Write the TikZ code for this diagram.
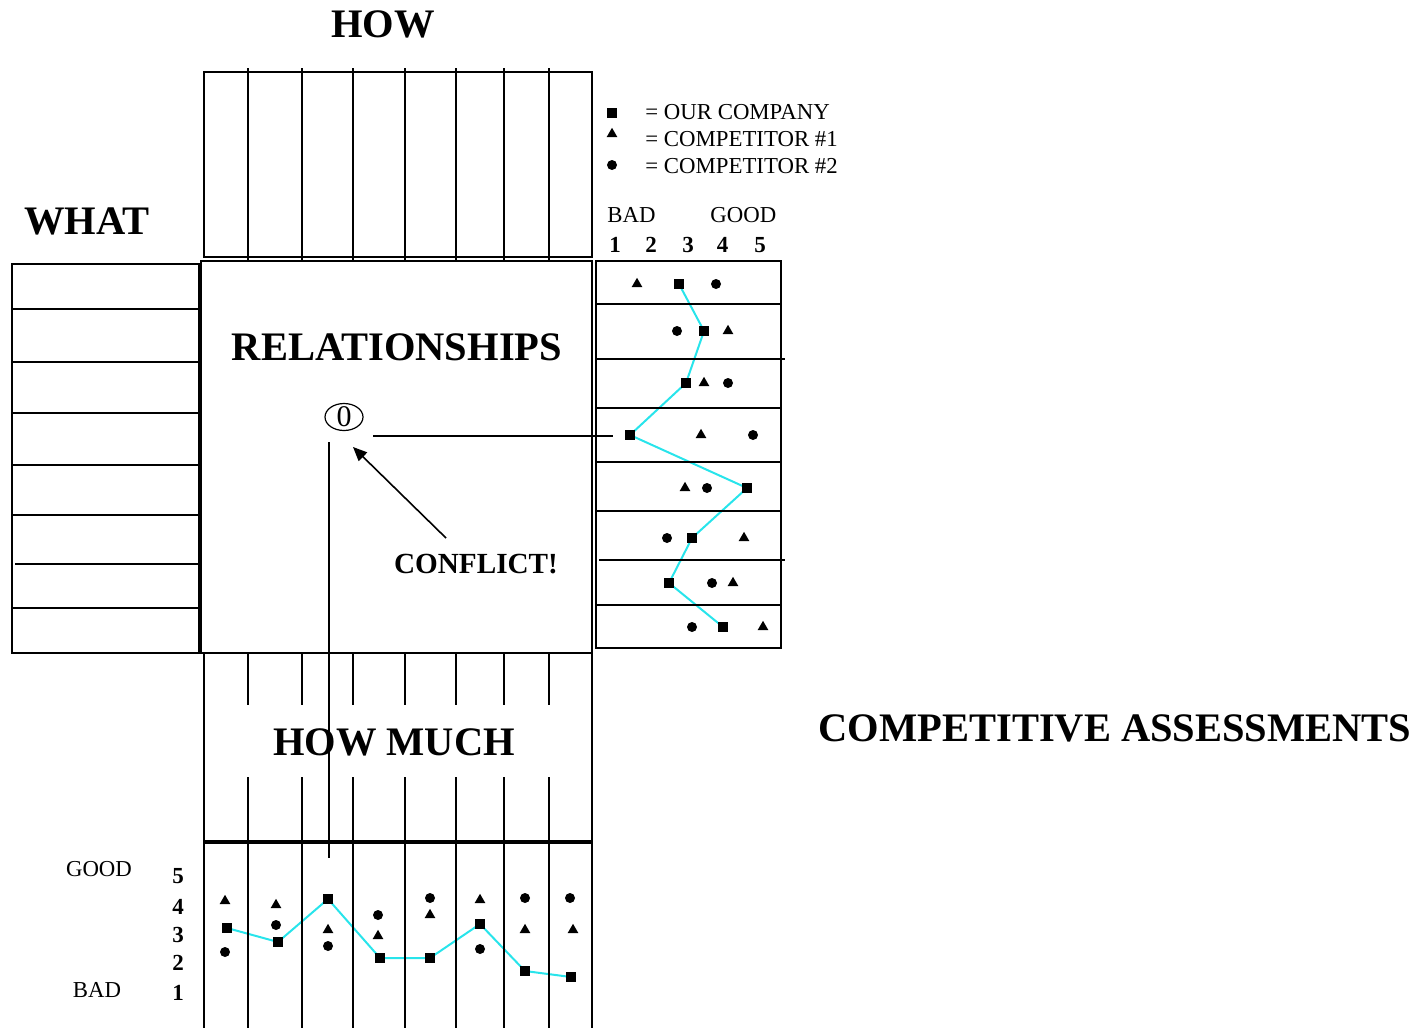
\documentclass[tikz,border=0pt]{standalone}
\usepackage{fontspec}
\setmainfont{Liberation Serif}
\usetikzlibrary{shapes.geometric,arrows.meta}
\pgfdeclarelayer{bg}
\pgfsetlayers{bg,main}
\definecolor{qcyan}{RGB}{40,228,235}
\tikzset{
  grid/.style={line width=0.8pt},
  frame/.style={line width=1pt},
  sq/.style={rectangle, fill=black, minimum size=5pt, inner sep=0pt},
  tri/.style={regular polygon, regular polygon sides=3, fill=black, minimum size=6.2pt, inner sep=0pt},
  dot/.style={circle, fill=black, minimum size=5pt, inner sep=0pt},
  title/.style={font=\fontsize{20.25pt}{24pt}\selectfont\bfseries, inner sep=0pt, anchor=base},
  small/.style={font=\fontsize{11.4pt}{13pt}\selectfont, inner sep=0pt},
  digit/.style={font=\fontsize{11.5pt}{14pt}\selectfont\bfseries, inner sep=0pt, anchor=base},
  trend/.style={qcyan, line width=1pt},
}
\begin{document}
\begin{tikzpicture}[x=0.5pt,y=-0.5pt]
\useasboundingbox (0,0) rectangle (1416,1028);

% HOW box
\draw[frame] (204,72) rectangle (592,257);
\foreach \x in {248,302,353,405,456,504,549} \draw[grid] (\x,68) -- (\x,260);

% WHAT box
\draw[frame] (12,264) rectangle (199,653);
\foreach \y in {309,362,413,465,515,608} \draw[grid] (12,\y) -- (199,\y);
\draw[grid] (15,564) -- (199,564);

% Relationships box
\draw[line width=1.4pt] (201,261) rectangle (592,653);

% Competitive box
\draw[frame] (596,261) rectangle (781,648);
\foreach \y in {304,408,462,511,605} \draw[grid] (596,\y) -- (781,\y);
\draw[grid] (596,359) -- (785,359);
\draw[grid] (599,560) -- (785,560);

% HOW MUCH box and bottom chart
\draw[frame] (204,653) -- (204,1028);
\draw[frame] (592,653) -- (592,1028);
\foreach \x in {248,302,353,405,456,504,549} {
  \draw[grid] (\x,653) -- (\x,705);
  \draw[grid] (\x,777) -- (\x,1028);
}
\draw[line width=1.6pt] (204,842) -- (592,842);

% titles
\node[title] (how) at (383,37) {HOW};
\node[title] (what) at (87,234) {WHAT};
\node[title] (rel) at (397,360) {RELATIONSHIPS};
\node[title] (howmuch) at (394,755) {HOW MUCH};
\node[title] (comp) at (1115,741) {COMPETITIVE ASSESSMENTS};
\node[font=\fontsize{14.6pt}{17pt}\selectfont\bfseries, inner sep=0pt, anchor=base] (conflict) at (476,573) {CONFLICT!};

% conflict symbol
\node[ellipse, draw, line width=0.6pt, minimum width=19pt, minimum height=13.5pt, inner sep=0pt] (zero) at (344,417) {};
\node[font=\fontsize{15pt}{15pt}\selectfont, inner sep=0pt] (zerotxt) at (zero.center) {0};
\coordinate (hl) at (373,436);
\coordinate (hr) at (613,436);
\draw[grid] (hl) -- (hr);
\coordinate (vtop) at (329,442);
\coordinate (vbot) at (329,858);
\draw[grid] (vtop) -- (vbot);
\coordinate (cf) at (446,538);
\coordinate (tip) at (353,447);
\draw[grid, -{Triangle[length=7pt,width=6pt]}] (cf) -- (tip);

% legend
\node[sq] (lsq) at (612,113) {};
\node[tri] (ltri) at (612,134) {};
\node[dot] (ldot) at (612,165) {};
\node[small, anchor=base west] (l1) at (645,119) {= OUR COMPANY};
\node[small, anchor=base west] (l2) at (645,146) {= COMPETITOR \#1};
\node[small, anchor=base west] (l3) at (645,173) {= COMPETITOR \#2};
\node[small, anchor=base west] (rbad) at (607,222) {BAD};
\node[small, anchor=base west] (rgood) at (710,222) {GOOD};
\node[digit] (rd1) at (615,252) {1};
\node[digit] (rd2) at (651,252) {2};
\node[digit] (rd3) at (688,252) {3};
\node[digit] (rd4) at (722.5,252) {4};
\node[digit] (rd5) at (760,252) {5};

% right markers
\node[tri] at (637,284) {}; \node[sq] (s1) at (679,284) {}; \node[dot] at (716,284) {};
\node[dot] at (677,331) {}; \node[sq] (s2) at (704,331) {}; \node[tri] at (728,331) {};
\node[sq] (s3) at (686,383) {}; \node[tri] at (704,383) {}; \node[dot] at (728,383) {};
\node[sq] (s4) at (630,435) {}; \node[tri] at (701,435) {}; \node[dot] at (753,435) {};
\node[tri] at (685,488) {}; \node[dot] at (707,488) {}; \node[sq] (s5) at (747,488) {};
\node[dot] at (667,538) {}; \node[sq] (s6) at (692,538) {}; \node[tri] at (744,538) {};
\node[sq] (s7) at (669,583) {}; \node[dot] at (712,583) {}; \node[tri] at (733,583) {};
\node[dot] at (692,627) {}; \node[sq] (s8) at (723,627) {}; \node[tri] at (763,627) {};
\begin{pgfonlayer}{bg}
\draw[trend] (s1.center) -- (s2.center) -- (s3.center) -- (s4.center) -- (s5.center) -- (s6.center) -- (s7.center) -- (s8.center);
\end{pgfonlayer}

% bottom labels
\node[small, anchor=base] (bgood) at (99,876) {GOOD};
\node[small, anchor=base] (bbad) at (97,997) {BAD};
\node[digit] (bd5) at (178,883) {5};
\node[digit] (bd4) at (178,914) {4};
\node[digit] (bd3) at (178,942) {3};
\node[digit] (bd2) at (178,970) {2};
\node[digit] (bd1) at (178,1000) {1};

% bottom markers
\node[tri] at (225,901) {}; \node[sq] (b1) at (227,928) {}; \node[dot] at (225,952) {};
\node[tri] at (276,905) {}; \node[dot] at (276,925) {}; \node[sq] (b2) at (278,942) {};
\node[sq] (b3) at (328,899) {}; \node[tri] at (328,930) {}; \node[dot] at (328,946) {};
\node[dot] at (378,915) {}; \node[tri] at (378,936) {}; \node[sq] (b4) at (380,958) {};
\node[dot] at (430,898) {}; \node[tri] at (430,915) {}; \node[sq] (b5) at (430,958) {};
\node[tri] at (480,900) {}; \node[sq] (b6) at (480,924) {}; \node[dot] at (480,949) {};
\node[dot] at (525,898) {}; \node[tri] at (525,930) {}; \node[sq] (b7) at (525,971) {};
\node[dot] at (570,898) {}; \node[tri] at (573,930) {}; \node[sq] (b8) at (571,977) {};
\begin{pgfonlayer}{bg}
\draw[trend] (b1.center) -- (b2.center) -- (b3.center) -- (b4.center) -- (b5.center) -- (b6.center) -- (b7.center) -- (b8.center);
\end{pgfonlayer}
\end{tikzpicture}
\end{document}
